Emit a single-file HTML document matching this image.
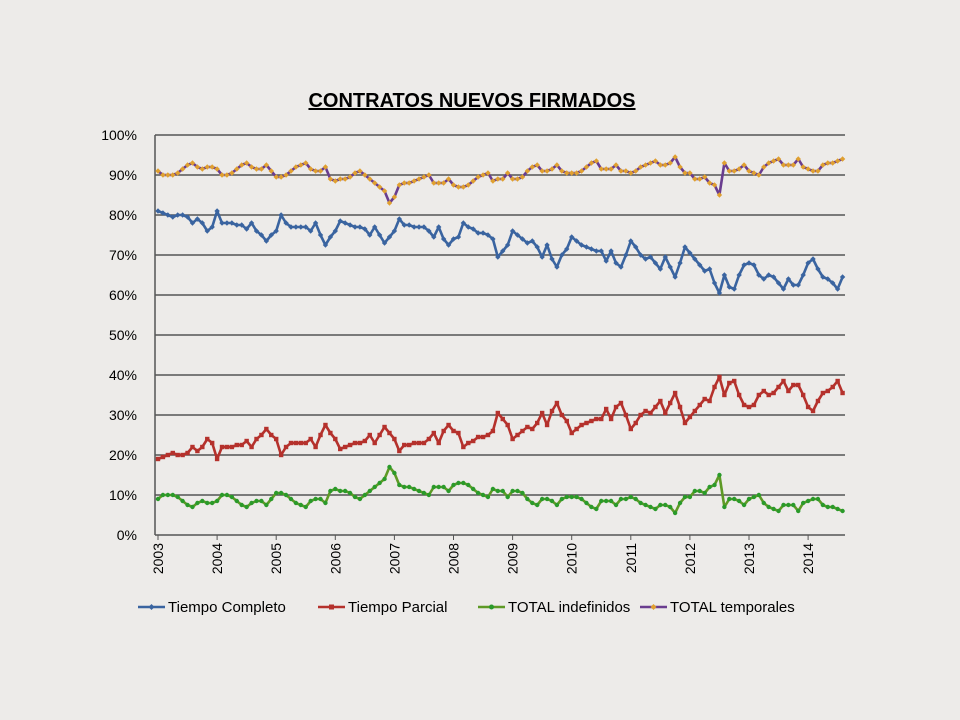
<!DOCTYPE html>
<html><head><meta charset="utf-8"><style>
body{margin:0;background:#edebe9;}
svg{display:block;font-family:"Liberation Sans",Arial,sans-serif;}
</style></head><body>
<svg id="chart" width="960" height="720" viewBox="0 0 960 720">
<rect width="960" height="720" fill="#edebe9"/>
<text x="472" y="107" text-anchor="middle" font-size="20" font-weight="bold" text-decoration="underline" fill="#000">CONTRATOS NUEVOS FIRMADOS</text>
<g id="grid"></g><g id="series"></g><g id="legend"></g>
</svg>
<script>
const years = ["2003","2004","2005","2006","2007","2008","2009","2010","2011","2012","2013","2014"];
const yTicks = [0,10,20,30,40,50,60,70,80,90,100];
const tiempoCompleto = [81,80.5,80,79.5,80,80,79.5,78,79,78,76,77,
81,78,78,78,77.5,77.5,76.5,78,76,75,73.5,75,
76,80,78,77,77,77,77,76,78,75,72.5,74.5,
76,78.5,78,77.5,77,77,76.5,75,77,75,73,74.5,
76,79,77.5,77.5,77,77,77,76,74.5,77,74,72.5,
74,74.5,78,77,76.5,75.5,75.5,75,74,69.5,71,72.5,
76,75,74,73,73.5,72,69.5,72.5,69,67,70,71.5,
74.5,73.5,72.5,72,71.5,71,71,68.5,71,68,67,70,
73.5,72,70,69,69.5,68,66.5,69.5,67,64.5,68,72,
70.5,69,67.5,66,66.5,63,60.5,65,62,61.5,65,67.5,
68,67.5,65,64,65,64.5,63,61.5,64,62.5,62.5,65,
68,69,66.5,64.5,64,63,61.5,64.5];
const tiempoParcial = [19,19.5,20,20.5,20,20,20.5,22,21,22,24,23,
19,22,22,22,22.5,22.5,23.5,22,24,25,26.5,25,
24,20,22,23,23,23,23,24,22,25,27.5,25.5,
24,21.5,22,22.5,23,23,23.5,25,23,25,27,25.5,
24,21,22.5,22.5,23,23,23,24,25.5,23,26,27.5,
26,25.5,22,23,23.5,24.5,24.5,25,26,30.5,29,27.5,
24,25,26,27,26.5,28,30.5,27.5,31,33,30,28.5,
25.5,26.5,27.5,28,28.5,29,29,31.5,29,32,33,30,
26.5,28,30,31,30.5,32,33.5,30.5,33,35.5,32,28,
29.5,31,32.5,34,33.5,37,39.5,35,38,38.5,35,32.5,
32,32.5,35,36,35,35.5,37,38.5,36,37.5,37.5,35,
32,31,33.5,35.5,36,37,38.5,35.5];
const totalIndefinidos = [9,10,10,10,9.5,8.5,7.5,7,8,8.5,8,8,
8.5,10,10,9.5,8.5,7.5,7,8,8.5,8.5,7.5,9,
10.5,10.5,10,9,8,7.5,7,8.5,9,9,8,11,
11.5,11,11,10.5,9.5,9,10,11,12,13,14,17,
15.5,12.5,12,12,11.5,11,10.5,10,12,12,12,11,
12.5,13,13,12.5,11.5,10.5,10,9.5,11.5,11,11,9.5,
11,11,10.5,9,8,7.5,9,9,8.5,7.5,9,9.5,
9.5,9.5,9,8,7,6.5,8.5,8.5,8.5,7.5,9,9,
9.5,9,8,7.5,7,6.5,7.5,7.5,7,5.5,8,9.5,
9.5,11,11,10.5,12,12.5,15,7,9,9,8.5,7.5,
9,9.5,10,8,7,6.5,6,7.5,7.5,7.5,6,8,
8.5,9,9,7.5,7,7,6.5,6];
const totalTemporales = [91,90,90,90,90.5,91.5,92.5,93,92,91.5,92,92,
91.5,90,90,90.5,91.5,92.5,93,92,91.5,91.5,92.5,91,
89.5,89.5,90,91,92,92.5,93,91.5,91,91,92,89,
88.5,89,89,89.5,90.5,91,90,89,88,87,86,83,
84.5,87.5,88,88,88.5,89,89.5,90,88,88,88,89,
87.5,87,87,87.5,88.5,89.5,90,90.5,88.5,89,89,90.5,
89,89,89.5,91,92,92.5,91,91,91.5,92.5,91,90.5,
90.5,90.5,91,92,93,93.5,91.5,91.5,91.5,92.5,91,91,
90.5,91,92,92.5,93,93.5,92.5,92.5,93,94.5,92,90.5,
90.5,89,89,89.5,88,87.5,85,93,91,91,91.5,92.5,
91,90.5,90,92,93,93.5,94,92.5,92.5,92.5,94,92,
91.5,91,91,92.5,93,93,93.5,94];
const seriesNames = ["Tiempo Completo","Tiempo Parcial","TOTAL indefinidos","TOTAL temporales"];

const NS="http://www.w3.org/2000/svg";
const X0=158, STEP=4.925, PL=155, PR=845, YB=535, YT=135;
const xAt=i=>X0+i*STEP;
const yAt=v=>YB-(v/100)*(YB-YT);
function mk(tag,attrs,parent){const e=document.createElementNS(NS,tag);for(const k in attrs)e.setAttribute(k,attrs[k]);parent.appendChild(e);return e;}
const grid=document.getElementById('grid');
yTicks.forEach(t=>{
  const l=mk('line',{x1:PL,x2:PR,y1:yAt(t),y2:yAt(t),stroke:'#555','stroke-width':1.5},grid);
  
  
  const tx=mk('text',{x:137,y:yAt(t)+5,'text-anchor':'end','font-size':14,fill:'#000'},grid);
  tx.textContent=t+'%';
  
  
});
const ax=mk('line',{x1:PL,x2:PL,y1:YT,y2:YB,stroke:'#555','stroke-width':1.5},grid);


years.forEach((y,k)=>{
  const x=xAt(k*12);
  const tk=mk('line',{x1:x,x2:x,y1:YB,y2:YB+5,stroke:'#555'},grid);
  
  
  const tx=mk('text',{x:0,y:0,'text-anchor':'end','font-size':14,fill:'#000',transform:`translate(${x+5},${YB+8}) rotate(-90)`},grid);
  tx.textContent=y;
  
  
});
const styles=[
 {data:tiempoCompleto,color:'#3a64a0',mark:'diamond',mfill:'#3a64a0',name:'tiempo-completo'},
 {data:tiempoParcial,color:'#b5312c',mark:'square',mfill:'#b5312c',name:'tiempo-parcial'},
 {data:totalIndefinidos,color:'#5e9a26',mark:'circle',mfill:'#2a9a2a',name:'total-indefinidos'},
 {data:totalTemporales,color:'#6a3d8f',mark:'diamond',mfill:'#e0a030',name:'total-temporales'}];
function marker(s,x,y,parent,sz){
  let e;
  if(s.mark==='square') e=mk('rect',{x:x-sz,y:y-sz,width:2*sz,height:2*sz,fill:s.mfill},parent);
  else if(s.mark==='circle') e=mk('circle',{cx:x,cy:y,r:sz,fill:s.mfill},parent);
  else e=mk('polygon',{points:`${x},${y-sz-0.5} ${x+sz+0.5},${y} ${x},${y+sz+0.5} ${x-sz-0.5},${y}`,fill:s.mfill},parent);
  return e;
}
const sg=document.getElementById('series');
styles.forEach(s=>{
  const g=mk('g',{},sg);
  
  
  const pts=s.data.map((v,i)=>xAt(i).toFixed(1)+','+yAt(v).toFixed(1)).join(' ');
  const pl=mk('polyline',{points:pts,fill:'none',stroke:s.color,'stroke-width':2.6,'stroke-linejoin':'round'},g);
  
  
  s.data.forEach((v,i)=>{
    const m=marker(s,xAt(i),yAt(v),g,2.2);
    
    
  });
});
const lg=document.getElementById('legend');
const lx=[138,318,478,640];
styles.forEach((s,k)=>{
  const g=mk('g',{},lg);
  
  
  mk('line',{x1:lx[k],x2:lx[k]+27,y1:607,y2:607,stroke:s.color,'stroke-width':2.6},g);
  marker(s,lx[k]+13.5,607,g,2.5);
  const t=mk('text',{x:lx[k]+30,y:612,'font-size':15,fill:'#000'},g);
  t.textContent=seriesNames[k];
});
</script>
</body></html>
